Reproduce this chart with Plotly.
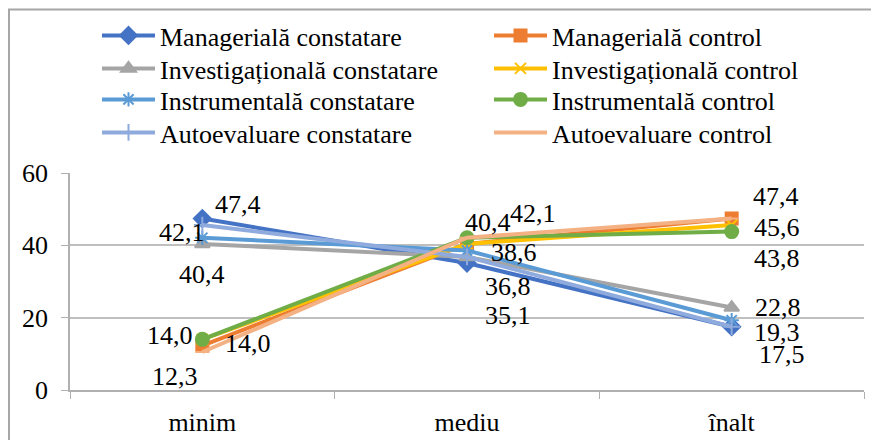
import plotly.graph_objects as go

categories = ["minim", "mediu", "înalt"]

series_names = [
    "Managerială constatare", "Managerială control",
    "Investigațională constatare", "Investigațională control",
    "Instrumentală constatare", "Instrumentală control",
    "Autoevaluare constatare", "Autoevaluare control",
]
manag_const = [47.4, 35.1, 17.5]
manag_ctrl = [12.3, 40.4, 47.4]
invest_const = [40.4, 36.8, 22.8]
invest_ctrl = [14.0, 40.4, 45.6]
instr_const = [42.1, 38.6, 19.3]
instr_ctrl = [14.0, 42.1, 43.8]
auto_const = [45.6, 36.8, 17.5]
auto_ctrl = [10.5, 42.1, 47.4]
series_values = [manag_const, manag_ctrl, invest_const, invest_ctrl,
                 instr_const, instr_ctrl, auto_const, auto_ctrl]

y_ticks = [0, 20, 40, 60]

# styles
colors = ["#4472C4", "#ED7D31", "#A5A5A5", "#FFC000",
          "#5B9BD5", "#70AD47", "#8FAADC", "#F4B183"]
symbols = ["diamond", "square", "triangle-up", "x-thin-open",
           "asterisk-open", "circle", "cross-thin-open", "line-ew-open"]
msizes = [13, 12, 13, 11, 12, 13, 12, 10]

# legend grid: 2 columns x 4 rows (pixel positions inside the figure)
W, H = 871, 432
legend_cols = [89, 481]
legend_rows = [4, 37, 68, 101]

# data-label offsets (pixels) for the first six series, per category
label_offsets = {
    0: [(36, 14), (41, -52), (50, -28)],
    1: [(-27, -31), (21, 21), (44, 22)],
    2: [(0, -31), (41, -30), (46, 0)],
    3: [(-32, 4), (0, 0), (45, -2)],
    4: [(-20, 5), (47, -2), (45, -12)],
    5: [(46, -4), (66, 24), (45, -27)],
}
hidden_labels = {(3, 1)}

FONT = "Liberation Serif, Times New Roman, serif"

fig = go.Figure()
legends = {}
for i, (name, vals) in enumerate(zip(series_names, series_values)):
    lid = "legend" if i == 0 else f"legend{i + 1}"
    fig.add_trace(go.Scatter(
        x=categories, y=vals, name=name, mode="lines+markers",
        line=dict(color=colors[i], width=4),
        marker=dict(symbol=symbols[i], size=msizes[i], color=colors[i],
                    line=dict(color=colors[i], width=2)),
        legend=lid,
    ))
    legends[lid] = dict(
        xref="container", yref="container",
        x=legend_cols[i % 2] / W, y=1 - legend_rows[i // 2] / H,
        xanchor="left", yanchor="top", itemwidth=53,
        font=dict(family=FONT, size=26, color="black"),
        bgcolor="rgba(0,0,0,0)", borderwidth=0,
    )

annotations = []
for si, offs in label_offsets.items():
    for ci, (dx, dy) in enumerate(offs):
        if (si, ci) in hidden_labels:
            continue
        v = series_values[si][ci]
        annotations.append(dict(
            x=categories[ci], y=v, xref="x", yref="y",
            text=f"{v:.1f}".replace(".", ","), showarrow=False,
            xanchor="center", yanchor="middle", xshift=dx, yshift=dy,
            font=dict(family=FONT, size=26, color="black"),
        ))

ml, mr, mt, mb = 62, 15, 165, 50
pw, ph = W - ml - mr, H - mt - mb

fig.update_layout(
    width=W, height=H,
    margin=dict(l=ml, r=mr, t=mt, b=mb, autoexpand=False),
    paper_bgcolor="white", plot_bgcolor="white",
    font=dict(family=FONT, size=26, color="black"),
    annotations=annotations,
    xaxis=dict(type="category", showgrid=False, showline=True,
               linecolor="#B0B0B0", linewidth=1.5, ticks="outside",
               tickson="boundaries", ticklen=7, tickcolor="#B0B0B0",
               tickfont=dict(family=FONT, size=26), ticklabelstandoff=8,
               tickangle=0, automargin=False, range=[-0.5, 2.5]),
    yaxis=dict(range=[0, 60], tickvals=y_ticks, showgrid=True,
               gridcolor="#BFBFBF", gridwidth=1.5, showline=True,
               linecolor="#B0B0B0", linewidth=1.5, ticks="outside",
               ticklen=7, tickcolor="#B0B0B0", zeroline=False,
               automargin=False,
               tickfont=dict(family=FONT, size=26), ticklabelstandoff=8),
    shapes=[dict(type="rect", xref="paper", yref="paper",
                 x0=(1 - ml) / pw, x1=1.2, y0=-0.6, y1=(H - mb - 1.5) / ph,
                 line=dict(color="#A6A6A6", width=2), layer="below")],
    showlegend=True,
    **legends,
)

fig.write_html("out.html")
